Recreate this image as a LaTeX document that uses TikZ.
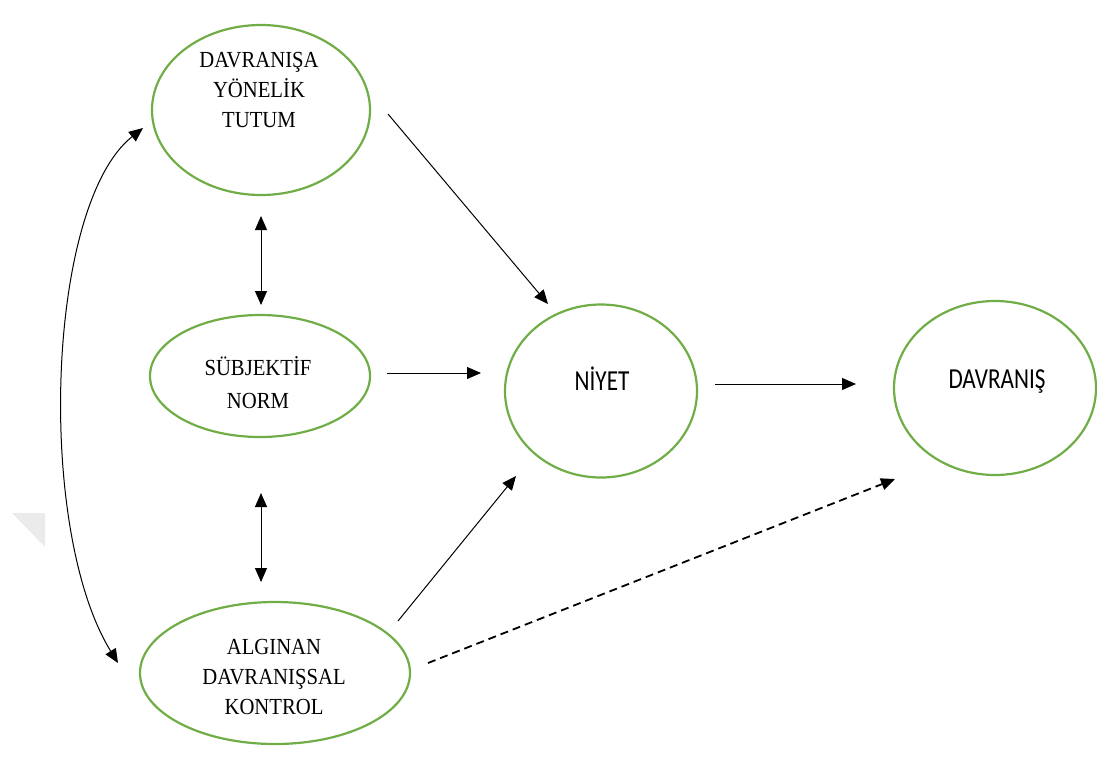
\documentclass[tikz,border=0pt]{standalone}
\usepackage{fontspec}
\newfontfamily\serifnode[FakeStretch=0.9]{Liberation Serif}
\newfontfamily\sansnode[FakeStretch=0.8]{Carlito}
\usetikzlibrary{shapes.geometric,arrows.meta}
\definecolor{ovalgreen}{RGB}{112,173,71}
\tikzset{
  oval/.style={ellipse, draw=ovalgreen, line width=2.2pt, inner sep=0pt},
  serlabel/.style={align=center, inner sep=0pt, font=\serifnode\fontsize{23}{30}\selectfont},
  sanslabel/.style={inner sep=0pt, anchor=base, font=\sansnode\fontsize{29}{34}\selectfont},
  conn/.style={line width=1pt, -{Triangle[length=14pt,width=12pt]}},
  biconn/.style={line width=1pt, {Triangle[length=14pt,width=12pt]}-{Triangle[length=14pt,width=12pt]}},
  dashconn/.style={line width=1.8pt, dash pattern=on 8pt off 5pt, -{Triangle[length=14pt,width=12pt]}},
}
\begin{document}
\begin{tikzpicture}[x=1pt,y=-1pt]
\useasboundingbox (0,0) rectangle (1097,769);
% faint watermark mark
\fill[black!8] (12,513) -- (45,513) -- (45,547) -- cycle;

% ellipses
\node[oval, minimum width=218pt, minimum height=170pt] (tutum) at (261,110) {};
\node[oval, minimum width=220pt, minimum height=122pt] (norm) at (260,376) {};
\node[oval, minimum width=270pt, minimum height=142pt] (kontrol) at (275,673) {};
\node[oval, minimum width=192pt, minimum height=173pt] (niyet) at (601,391) {};
\node[oval, minimum width=202pt, minimum height=174pt] (davranis) at (995,388) {};

% labels
\node[serlabel] (tutumT) at (259,90) {DAVRANIŞA\\YÖNELİK\\TUTUM};
\node[serlabel, font=\serifnode\fontsize{23}{33}\selectfont] (normT) at (258,383) {SÜBJEKTİF\\NORM};
\node[serlabel] (kontrolT) at (274,677) {ALGINAN\\DAVRANIŞSAL\\KONTROL};
\node[sanslabel] (niyetT) at (602,390) {NİYET};
\node[sanslabel] (davranisT) at (997,388) {DAVRANIŞ};

% connector end points
\coordinate (a1s) at (388,114); \coordinate (a1e) at (548,304);
\coordinate (a2s) at (387,373); \coordinate (a2e) at (481,373);
\coordinate (a3s) at (398,621); \coordinate (a3e) at (516,476);
\coordinate (a4s) at (715,384); \coordinate (a4e) at (856,384);
\coordinate (a5s) at (428,663); \coordinate (a5e) at (895,479);
\coordinate (b1s) at (261,216); \coordinate (b1e) at (261,305);
\coordinate (b2s) at (261,493); \coordinate (b2e) at (261,582);
\coordinate (c1s) at (143,128); \coordinate (c1e) at (118,663);

% connectors
\draw[conn] (a1s) -- (a1e);
\draw[conn] (a2s) -- (a2e);
\draw[conn] (a3s) -- (a3e);
\draw[conn] (a4s) -- (a4e);
\draw[dashconn] (a5s) -- (a5e);
\draw[biconn] (b1s) -- (b1e);
\draw[biconn] (b2s) -- (b2e);
\draw[biconn] (c1s) .. controls (46,205) and (36,530) .. (c1e);
\end{tikzpicture}
\end{document}
